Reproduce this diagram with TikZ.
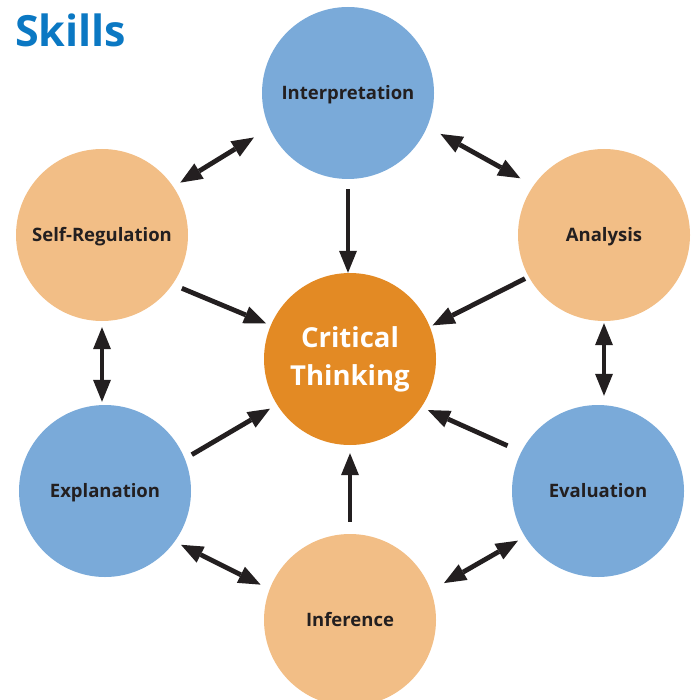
\documentclass[tikz,border=0pt]{standalone}
\usepackage{fontspec}
\setmainfont{Open Sans}
\usetikzlibrary{arrows.meta}
\definecolor{skyb}{HTML}{7AAAD9}
\definecolor{peach}{HTML}{F2BE86}
\definecolor{core}{HTML}{E38A24}
\definecolor{ink}{HTML}{231F20}
\definecolor{titleblue}{HTML}{0B78C3}
\begin{document}
\begin{tikzpicture}[x=1pt,y=-1pt,
  bub/.style={circle,minimum size=172pt,inner sep=0pt,text=ink,
    text height=13.2pt,text depth=0pt,
    font=\bfseries\fontsize{18.5}{20}\selectfont},
  tipa/.tip={Triangle[length=22pt,width=18pt,line width=0pt]},
  uni/.style={draw=ink,line width=4.8pt,-tipa},
  bi/.style={draw=ink,line width=4.8pt,tipa-tipa}]
\useasboundingbox (0,0) rectangle (694,700);
\node[anchor=base west,inner sep=0pt,text=titleblue,
  font=\bfseries\fontsize{43}{46}\selectfont] (title) at (15,47) {Skills};
\node[bub,fill=skyb] (i) at (348,93) {Interpretation};
\node[bub,fill=peach] (sr) at (102,235) {Self-Regulation};
\node[bub,fill=peach] (a) at (604,235) {Analysis};
\node[bub,fill=skyb] (ex) at (105,491) {Explanation};
\node[bub,fill=skyb] (ev) at (598,491) {Evaluation};
\node[bub,fill=peach] (inf) at (350,620) {Inference};
\node[bub,fill=core,text=white,align=center,text height=,text depth=,
  font=\bfseries\fontsize{27.5}{38}\selectfont] (c) at (350,359) {Critical\\Thinking};
% double arrows
\draw[bi,shorten <=8pt,shorten >=18pt] (sr.34) -- (i.204);
\draw[bi,shorten <=15pt,shorten >=15pt] (i.337) -- (a.145);
\draw[bi,shorten <=6pt,shorten >=3pt] (sr.south) -- (sr.south |- ex.north);
\draw[bi,shorten <=2pt,shorten >=9pt] (a.south) -- (a.south |- ev.north);
\draw[bi,shorten <=7pt,shorten >=10pt] (ex.-36) -- (inf.159);
\draw[bi,shorten <=8pt,shorten >=15pt] (ev.212) -- (inf.20);
% arrows to the centre
\draw[uni,shorten <=10pt] (i.south) -- (i.south |- c.north);
\draw[uni,shorten <=10pt,shorten >=5pt] (sr.-35) -- (c.157);
\draw[uni,shorten <=4pt,shorten >=3pt] (a.209) -- (c.22);
\draw[uni,shorten <=8pt,shorten >=8pt] (ex.22) -- (c.212);
\draw[uni,shorten <=15pt,shorten >=7pt] (ev.153) -- (c.-34);
\draw[uni,shorten <=12pt,shorten >=8pt] (inf.north) -- (inf.north |- c.south);
\end{tikzpicture}
\end{document}
